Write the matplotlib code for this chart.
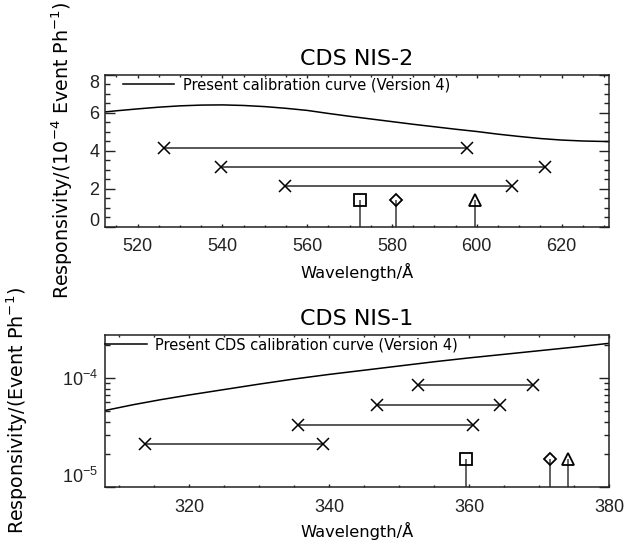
import matplotlib
matplotlib.use("Agg")
import matplotlib.pyplot as plt
from matplotlib.ticker import MultipleLocator, FixedLocator, LogLocator, NullFormatter

# ---------------- data: CDS NIS-2 (top) ----------------
nis2_curve_wl = [512.3, 515, 520, 525, 530, 535, 540, 545, 550, 555, 560, 565, 570,
                 575, 580, 585, 590, 595, 600, 605, 610, 615, 620, 625, 631.2]
nis2_curve_resp = [6.03, 6.09, 6.19, 6.28, 6.35, 6.39, 6.40, 6.37, 6.31, 6.22, 6.11, 5.95, 5.80,
                   5.66, 5.52, 5.38, 5.25, 5.12, 5.00, 4.86, 4.74, 4.63, 4.55, 4.50, 4.47]
nis2_bar_lo = [526.3, 539.6, 554.8]
nis2_bar_hi = [597.8, 616.2, 608.4]
nis2_bar_resp = [4.15, 3.15, 2.15]
nis2_pt_wl = [572.4, 581.0, 599.7]
nis2_pt_resp = [1.4, 1.4, 1.4]

# ---------------- data: CDS NIS-1 (bottom) ----------------
nis1_curve_wl = [308, 312, 316, 320, 325, 330, 335, 340, 345, 350, 355, 360, 365, 370, 375, 380]
nis1_curve_resp = [5.05e-5, 5.7e-5, 6.35e-5, 7.0e-5, 7.85e-5, 8.8e-5, 9.8e-5, 1.08e-4,
                   1.18e-4, 1.29e-4, 1.41e-4, 1.53e-4, 1.65e-4, 1.78e-4, 1.92e-4, 2.08e-4]
nis1_bar_lo = [352.7, 346.8, 335.5, 313.7]
nis1_bar_hi = [369.2, 364.4, 360.6, 339.1]
nis1_bar_resp = [8.57e-5, 5.71e-5, 3.75e-5, 2.5e-5]
nis1_pt_wl = [359.6, 371.6, 374.2]
nis1_pt_resp = [1.8e-5, 1.8e-5, 1.8e-5]

pt_markers = ['s', 'D', '^']
pt_sizes = [8.5, 5.8, 8.6]

plt.rcParams['font.family'] = ['DejaVu Sans']
W, H = 643, 544
fig = plt.figure(figsize=(W / 100, H / 100), dpi=100)

ax1 = fig.add_axes([105 / W, 1 - 226.5 / H, 504 / W, 152 / H])
ax2 = fig.add_axes([105 / W, 1 - 487.3 / H, 504 / W, 152.3 / H])

bar_color = '#4a4a4a'
stem_color = '#555555'


def style_axes(ax):
    for s in ax.spines.values():
        s.set_linewidth(1.1)
        s.set_color('#222222')
    ax.tick_params(which='both', direction='in', top=True, right=True,
                   labelfontfamily='Liberation Sans', labelsize=13, colors='#222222')
    ax.tick_params(axis='x', which='major', length=2.4, width=1.0, pad=8.5)
    ax.tick_params(axis='x', which='minor', length=1.4, width=1.0)
    ax.tick_params(axis='y', which='major', length=7, width=1.0)
    ax.tick_params(axis='y', which='minor', length=3.5, width=1.0)


# ---------- top panel ----------
ax1.plot(nis2_curve_wl, nis2_curve_resp, color='k', lw=1.1,
         label='Present calibration curve (Version 4)')
for lo, hi, r in zip(nis2_bar_lo, nis2_bar_hi, nis2_bar_resp):
    ax1.plot([lo, hi], [r, r], color=bar_color, lw=1.3, marker='x', ms=8,
             mew=1.1, mec='k')
ax1.vlines(nis2_pt_wl, 0, nis2_pt_resp, color=stem_color, lw=1.3)
for x, y, m, s in zip(nis2_pt_wl, nis2_pt_resp, pt_markers, pt_sizes):
    ax1.plot([x], [y], marker=m, ms=s, mfc='none', mec='k', mew=1.3, ls='none')

ax1.set_xlim(512.3, 631.2)
ax1.set_ylim(0, 8)
ax1.xaxis.set_major_locator(MultipleLocator(20))
ax1.xaxis.set_minor_locator(MultipleLocator(5))
ax1.yaxis.set_major_locator(FixedLocator([0, 2, 4, 6, 8]))
ax1.yaxis.set_minor_locator(MultipleLocator(0.5))
style_axes(ax1)
ax1.tick_params(axis='y', which='major', pad=4)
ax1.set_title('CDS NIS-2', fontsize=16, pad=6.8)
ax1.legend(loc='center left', bbox_to_anchor=(0.0363, 0.931), frameon=False,
           handlelength=3.5, handletextpad=0.6, borderpad=0, borderaxespad=0,
           fontsize=10.5)
fig.text(357 / W, 1 - 272 / H, 'Wavelength/Å', ha='center', va='center', fontsize=11.7)
fig.text(62 / W, 1 - 150.5 / H, 'Responsivity/(10$^{-4}$ Event Ph$^{-1}$)',
         rotation=90, ha='center', va='center', fontsize=13.7)

# ---------- bottom panel ----------
ax2.plot(nis1_curve_wl, nis1_curve_resp, color='k', lw=1.1,
         label='Present CDS calibration curve (Version 4)')
for lo, hi, r in zip(nis1_bar_lo, nis1_bar_hi, nis1_bar_resp):
    ax2.plot([lo, hi], [r, r], color=bar_color, lw=1.3, marker='x', ms=8,
             mew=1.1, mec='k')
ax2.set_yscale('log')
ax2.set_xlim(308, 380)
ax2.set_ylim(1e-5, 2.48e-4)
ax2.vlines(nis1_pt_wl, 1e-5, nis1_pt_resp, color=stem_color, lw=1.3)
for x, y, m, s in zip(nis1_pt_wl, nis1_pt_resp, pt_markers, pt_sizes):
    ax2.plot([x], [y], marker=m, ms=s, mfc='none', mec='k', mew=1.3, ls='none')

ax2.xaxis.set_major_locator(MultipleLocator(20))
ax2.xaxis.set_minor_locator(MultipleLocator(5))
ax2.yaxis.set_major_locator(LogLocator(base=10, numticks=10))
ax2.yaxis.set_minor_locator(LogLocator(base=10, subs=range(2, 10), numticks=10))
ax2.yaxis.set_minor_formatter(NullFormatter())
style_axes(ax2)
ax2.tick_params(axis='y', which='major', pad=5)
ax2.set_title('CDS NIS-1', fontsize=16, pad=7.2)
ax2.legend(loc='center left', bbox_to_anchor=(0.0, 0.934), frameon=False,
           handlelength=2.86, handletextpad=0.6, borderpad=0, borderaxespad=0,
           fontsize=10.5)
fig.text(357 / W, 1 - 531 / H, 'Wavelength/Å', ha='center', va='center', fontsize=11.7)
fig.text(17 / W, 1 - 411 / H, 'Responsivity/(Event Ph$^{-1}$)',
         rotation=90, ha='center', va='center', fontsize=13.7)

# edge tick labels shifted inward as in the original
fig.canvas.draw()
t1 = ax1.yaxis.get_major_ticks()
t1[0].label1.set_va('baseline')
t1[-1].label1.set_va('top')
for t in ax2.yaxis.get_major_ticks():
    if abs(t.get_loc() - 1e-5) < 1e-9:
        t.label1.set_va('bottom')

fig.savefig('out.png', dpi=100)
